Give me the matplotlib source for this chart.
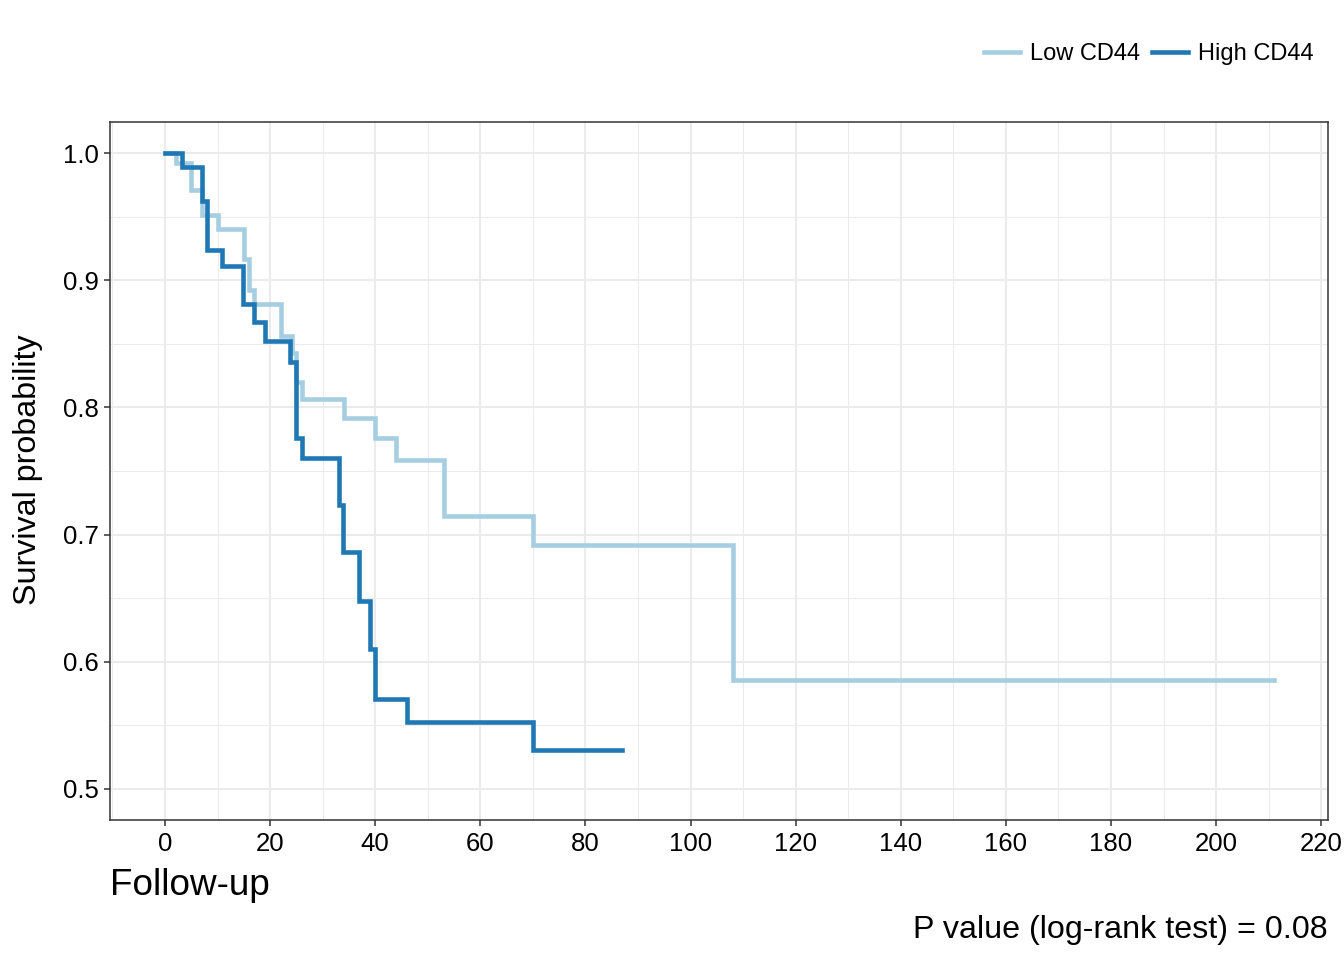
import matplotlib
matplotlib.use('Agg')
import matplotlib.pyplot as plt
from matplotlib.lines import Line2D

plt.rcParams['font.family'] = ['Liberation Sans', 'DejaVu Sans']

# Kaplan-Meier steps
low_time = [0, 2, 5, 7, 10, 15, 16, 17, 22, 24.2, 25, 26, 34, 40, 44, 53, 70, 108, 211]
low_surv = [1.0, 0.992, 0.971, 0.951, 0.940, 0.917, 0.892, 0.881, 0.856, 0.8425,
            0.820, 0.807, 0.792, 0.776, 0.759, 0.715, 0.692, 0.586, 0.586]

high_time = [0, 3.2, 7.1, 7.9, 10.9, 14.9, 16.9, 19, 23.8, 24.9, 26, 33.1, 33.9,
             37, 39, 40, 46, 70, 87]
high_surv = [1.0, 0.989, 0.962, 0.924, 0.911, 0.881, 0.867, 0.852, 0.836, 0.776,
             0.760, 0.723, 0.686, 0.648, 0.610, 0.571, 0.553, 0.531, 0.531]

group_labels = ['Low CD44', 'High CD44']
group_colors = ['#a6cee3', '#1f78b4']

x_ticks = list(range(0, 221, 20))
x_minor = list(range(-10, 221, 20))
y_ticks = [0.5, 0.6, 0.7, 0.8, 0.9, 1.0]
y_minor = [0.55, 0.65, 0.75, 0.85, 0.95]

p_text = 'P value (log-rank test) = 0.08'

fig = plt.figure(figsize=(13.44, 9.6), dpi=100)
ax = fig.add_axes([110 / 1344, 1 - 820 / 960, 1218 / 1344, 698 / 960])

ax.step(low_time, low_surv, where='post', color=group_colors[0], lw=3.3,
        solid_joinstyle='miter', zorder=3)
ax.step(high_time, high_surv, where='post', color=group_colors[1], lw=3.3,
        solid_joinstyle='miter', zorder=4)

ax.set_xlim(-10.47, 221.3)
ax.set_ylim(0.4756, 1.0244)
ax.set_xticks(x_ticks)
ax.set_yticks(y_ticks)
ax.set_xticks(x_minor, minor=True)
ax.set_yticks(y_minor, minor=True)
ax.set_yticklabels([f'{v:.1f}' for v in y_ticks])

ax.grid(True, which='major', color='#ebebeb', lw=1.45, zorder=0)
ax.grid(True, which='minor', color='#ebebeb', lw=0.75, zorder=0)
ax.set_axisbelow(True)

for s in ax.spines.values():
    s.set_color('#333333')
    s.set_linewidth(1.1)

ax.tick_params(which='major', length=4.3, width=1.1, color='#333333',
               labelsize=18.5, labelcolor='black', pad=4)
ax.tick_params(which='minor', length=0)

# axis titles placed in figure pixels
fig.text(28 / 1344, 1 - 470 / 960, 'Survival probability', fontsize=23.2,
         rotation=90, ha='center', va='center')
fig.text(110 / 1344, 1 - 895 / 960, 'Follow-up', fontsize=26.6, ha='left',
         va='baseline')
fig.text(1328 / 1344, 1 - 938 / 960, p_text, fontsize=23.2, ha='right',
         va='baseline')

handles = [Line2D([], [], color=c, lw=3.3) for c in group_colors]
fig.legend(handles, group_labels, loc='center right',
           bbox_to_anchor=(1314 / 1344, 1 - 54 / 960), ncol=2, frameon=False,
           fontsize=17, labelcolor='black', handlelength=1.5,
           handletextpad=0.45, columnspacing=0.5, borderaxespad=0, borderpad=0)

fig.savefig('out.png', dpi=100)
